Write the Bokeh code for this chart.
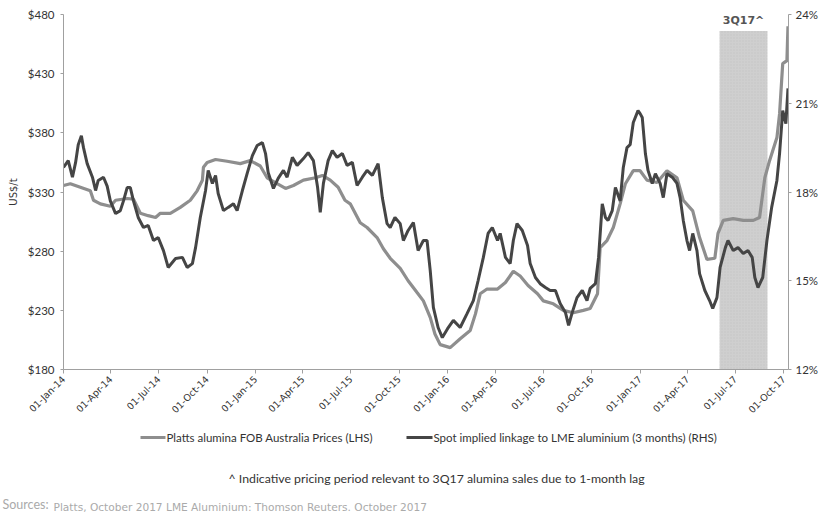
import pandas as pd
from bokeh.plotting import figure
from bokeh.layouts import column
from bokeh.models import (Range1d, LinearAxis, FixedTicker, NumeralTickFormatter,
                          PrintfTickFormatter, DatetimeTickFormatter, Label,
                          ColumnDataSource)
from bokeh.embed import file_html
from bokeh.resources import INLINE
from math import pi

# Platts alumina FOB Australia (US$/t, left axis)
platts_dates = [
    "2014-01-01", "2014-01-14", "2014-02-21", "2014-02-27", "2014-03-12", "2014-03-31",
    "2014-04-10", "2014-05-02", "2014-05-14", "2014-05-27", "2014-06-11", "2014-06-25",
    "2014-07-04", "2014-07-23", "2014-08-11", "2014-08-30", "2014-09-12", "2014-09-22",
    "2014-09-24", "2014-10-01", "2014-10-17", "2014-11-08", "2014-12-03", "2014-12-22",
    "2015-01-10", "2015-01-23", "2015-02-11", "2015-02-27", "2015-03-14", "2015-04-02",
    "2015-04-25", "2015-05-08", "2015-05-23", "2015-06-07", "2015-06-20", "2015-06-30",
    "2015-07-19", "2015-08-01", "2015-08-20", "2015-09-01", "2015-09-14", "2015-10-03",
    "2015-10-18", "2015-11-04", "2015-11-16", "2015-11-29", "2015-12-08", "2015-12-18",
    "2016-01-06", "2016-01-25", "2016-02-13", "2016-02-23", "2016-03-03", "2016-03-16",
    "2016-04-05", "2016-04-20", "2016-05-05", "2016-05-18", "2016-06-02", "2016-06-20",
    "2016-07-01", "2016-07-20", "2016-08-08", "2016-08-27", "2016-09-15", "2016-09-28",
    "2016-10-12", "2016-10-17", "2016-10-30", "2016-11-11", "2016-11-24", "2016-12-04",
    "2016-12-19", "2017-01-01", "2017-01-14", "2017-02-02", "2017-02-21", "2017-03-12",
    "2017-03-24", "2017-04-11", "2017-04-24", "2017-05-08", "2017-05-23", "2017-05-29",
    "2017-06-08", "2017-06-27", "2017-07-16", "2017-08-04", "2017-08-16", "2017-08-26",
    "2017-09-04", "2017-09-18", "2017-09-23", "2017-09-29", "2017-10-07", "2017-10-09",
]
platts_usd = [
    335.5, 337, 331, 323, 320, 318,
    323, 324.5, 324, 312, 310, 308.5,
    312, 312, 317, 323, 331, 340,
    351, 355, 357.5, 356, 354, 356.5,
    352, 342, 337, 333, 335.5, 340,
    342, 344, 340, 334, 323, 320,
    304, 300, 291.5, 282, 274, 265.5,
    255, 245, 238, 224, 210, 201,
    198.5, 206, 213, 227, 244, 248,
    248, 253.5, 263, 259, 251, 244,
    238, 235.5, 230, 228, 230, 231.5,
    244, 283, 289, 300, 320, 337,
    348, 348, 340, 338, 348, 342,
    323, 314, 291.5, 273, 274, 295,
    306, 307.5, 306, 306, 308.5, 342,
    356.5, 376, 396, 438.5, 441, 470,
]

# Spot implied linkage to LME aluminium, 3 months (%, right axis)
linkage_dates = [
    "2014-01-01", "2014-01-10", "2014-01-18", "2014-01-24", "2014-01-29", "2014-02-04",
    "2014-02-08", "2014-02-15", "2014-02-25", "2014-03-03", "2014-03-08", "2014-03-18",
    "2014-03-25", "2014-03-31", "2014-04-10", "2014-04-19", "2014-04-25", "2014-05-02",
    "2014-05-08", "2014-05-14", "2014-05-23", "2014-06-02", "2014-06-11", "2014-06-21",
    "2014-06-30", "2014-07-10", "2014-07-19", "2014-08-02", "2014-08-15", "2014-08-24",
    "2014-09-03", "2014-09-09", "2014-09-18", "2014-09-28", "2014-10-03", "2014-10-11",
    "2014-10-17", "2014-10-22", "2014-11-01", "2014-11-10", "2014-11-20", "2014-11-27",
    "2014-12-07", "2014-12-16", "2014-12-26", "2015-01-04", "2015-01-14", "2015-01-20",
    "2015-01-25", "2015-02-04", "2015-02-13", "2015-02-23", "2015-03-02", "2015-03-12",
    "2015-03-21", "2015-04-02", "2015-04-11", "2015-04-21", "2015-04-29", "2015-05-04",
    "2015-05-10", "2015-05-19", "2015-05-27", "2015-06-05", "2015-06-15", "2015-06-24",
    "2015-07-04", "2015-07-13", "2015-07-23", "2015-08-01", "2015-08-11", "2015-08-22",
    "2015-08-30", "2015-09-08", "2015-09-14", "2015-09-23", "2015-10-03", "2015-10-09",
    "2015-10-18", "2015-10-28", "2015-11-06", "2015-11-16", "2015-11-23", "2015-11-29",
    "2015-12-05", "2015-12-14", "2015-12-22", "2016-01-01", "2016-01-12", "2016-01-25",
    "2016-02-07", "2016-02-19", "2016-02-28", "2016-03-09", "2016-03-18", "2016-03-26",
    "2016-04-05", "2016-04-10", "2016-04-20", "2016-04-29", "2016-05-05", "2016-05-12",
    "2016-05-22", "2016-06-01", "2016-06-06", "2016-06-16", "2016-06-25", "2016-07-05",
    "2016-07-14", "2016-07-24", "2016-08-02", "2016-08-12", "2016-08-18", "2016-08-25",
    "2016-09-03", "2016-09-13", "2016-09-22", "2016-09-28", "2016-10-08", "2016-10-14",
    "2016-10-21", "2016-10-27", "2016-11-01", "2016-11-09", "2016-11-15", "2016-11-24",
    "2016-11-30", "2016-12-07", "2016-12-13", "2016-12-19", "2016-12-28", "2017-01-01",
    "2017-01-05", "2017-01-11", "2017-01-16", "2017-01-24", "2017-01-30", "2017-02-08",
    "2017-02-14", "2017-02-21", "2017-03-03", "2017-03-12", "2017-03-18", "2017-03-24",
    "2017-03-31", "2017-04-05", "2017-04-11", "2017-04-19", "2017-04-24", "2017-05-04",
    "2017-05-13", "2017-05-19", "2017-05-27", "2017-06-02", "2017-06-12", "2017-06-17",
    "2017-06-27", "2017-07-06", "2017-07-16", "2017-07-25", "2017-08-02", "2017-08-07",
    "2017-08-13", "2017-08-22", "2017-08-30", "2017-09-08", "2017-09-18", "2017-09-23",
    "2017-09-29", "2017-10-05", "2017-10-09",
]
linkage_pct = [
    18.83, 19.06, 18.5, 19.0, 19.6, 19.9,
    19.5, 18.96, 18.5, 18.05, 18.39, 18.5,
    18.2, 17.7, 17.27, 17.37, 17.7, 18.15,
    18.15, 17.7, 17.14, 16.8, 16.87, 16.36,
    16.46, 16.02, 15.45, 15.75, 15.79, 15.45,
    15.58, 16.12, 17.14, 18.05, 18.73, 18.29,
    18.56, 17.95, 17.37, 17.48, 17.6, 17.37,
    18.05, 18.62, 19.23, 19.57, 19.67, 19.3,
    18.66, 18.12, 18.46, 18.73, 18.5, 19.17,
    18.9, 19.13, 19.33, 19.06, 18.15, 17.31,
    18.29, 19.06, 19.4, 19.17, 19.3, 18.9,
    19.0, 18.22, 18.5, 18.73, 18.56, 18.96,
    17.81, 16.93, 16.8, 17.14, 16.93, 16.36,
    16.7, 16.97, 16.02, 16.36, 16.36, 15.35,
    14.1, 13.42, 13.08, 13.38, 13.66, 13.42,
    13.89, 14.33, 15.0, 15.79, 16.6, 16.8,
    16.36, 16.6, 15.79, 15.58, 16.36, 16.93,
    16.7, 16.19, 15.58, 15.11, 14.9, 14.77,
    14.67, 14.67, 14.23, 13.93, 13.49, 13.93,
    14.43, 14.67, 14.33, 14.74, 14.9, 15.79,
    17.6, 17.14, 17.04, 17.37, 18.15, 17.7,
    18.83, 19.5, 19.6, 20.35, 20.75, 20.65,
    20.52, 19.3, 18.73, 18.29, 18.62, 18.29,
    17.81, 18.62, 18.5, 18.29, 17.81, 17.04,
    16.36, 16.02, 16.6, 16.02, 15.24, 14.67,
    14.33, 14.06, 14.43, 15.45, 16.12, 16.36,
    16.02, 16.12, 15.92, 16.02, 15.79, 15.11,
    14.77, 15.11, 16.36, 17.48, 18.39, 19.3,
    20.75, 20.31, 21.5,
]

# Quarter-start tick dates and the 3Q17 pricing window (1-month lag)
tick_dates = [
    "2014-01-01", "2014-04-01", "2014-07-01", "2014-10-01",
    "2015-01-01", "2015-04-01", "2015-07-01", "2015-10-01",
    "2016-01-01", "2016-04-01", "2016-07-01", "2016-10-01",
    "2017-01-01", "2017-04-01", "2017-07-01", "2017-10-01",
]
window_start, window_end = "2017-06-01", "2017-08-31"
window_top = 466
usd_ticks = [180, 230, 280, 330, 380, 430, 480]
pct_ticks = [12, 15, 18, 21, 24]

series_labels = ["Platts alumina FOB Australia Prices (LHS)",
                 "Spot implied linkage to LME aluminium (3 months) (RHS)"]
footnote = "^ Indicative pricing period relevant to 3Q17 alumina sales due to 1-month lag"
sources_head = "Sources:"
sources_body = "Platts, October 2017 LME Aluminium: Thomson Reuters. October 2017"

LIGHT = "#8e8e8e"
DARK = "#454545"
AXIS = "#a0a0a0"
TXT = "#333333"
SRC = "#aaaaaa"

W, H_TOP, H_BOTTOM = 821, 425, 88


def ms(d):
    return pd.Timestamp(d).value // 10**6


# ---- main chart -------------------------------------------------------------
p = figure(width=W, height=H_TOP, x_axis_type="datetime",
           x_range=Range1d(pd.Timestamp("2014-01-01"), pd.Timestamp("2017-10-10")),
           y_range=Range1d(180, 480),
           output_backend="svg", toolbar_location=None,
           min_border_left=63, min_border_right=33, min_border_top=14,
           min_border_bottom=56)
p.extra_y_ranges = {"pct": Range1d(12, 24)}
p.xgrid.visible = False
p.ygrid.visible = False
p.outline_line_color = None

# 3Q17 shaded pricing window
p.quad(left=[pd.Timestamp(window_start)], right=[pd.Timestamp(window_end)],
       bottom=[180], top=[window_top], fill_color="#cfcfcf", line_color=None,
       hatch_pattern=".", hatch_color="#bdbdbd", hatch_scale=3, hatch_alpha=0.6)

src_p = ColumnDataSource(dict(x=pd.to_datetime(platts_dates), y=platts_usd))
src_l = ColumnDataSource(dict(x=pd.to_datetime(linkage_dates), y=linkage_pct))
p.line("x", "y", source=src_p, line_color=LIGHT, line_width=3.2)
p.line("x", "y", source=src_l, line_color=DARK, line_width=3.0, y_range_name="pct")

xa = p.xaxis[0]
xa.ticker = FixedTicker(ticks=[ms(d) for d in tick_dates])
fmt = "%d-%b-%y"
xa.formatter = DatetimeTickFormatter(days=fmt, months=fmt, years=fmt, hours=fmt)
xa.major_label_orientation = pi / 4
xa.major_label_standoff = 4

ya = p.yaxis[0]
ya.ticker = FixedTicker(ticks=usd_ticks)
ya.formatter = NumeralTickFormatter(format="$0")
ya.axis_label = "US$/t"
ya.axis_label_standoff = 6
ya.axis_label_text_font_style = "normal"
ya.axis_label_text_font = "DejaVu Sans"
ya.axis_label_text_font_size = "10px"
ya.axis_label_text_color = TXT
ya.major_label_standoff = 6

ra = LinearAxis(y_range_name="pct", ticker=FixedTicker(ticks=pct_ticks),
                formatter=PrintfTickFormatter(format="%d%%"))
ra.major_label_standoff = 4
p.add_layout(ra, "right")

for ax in (xa, ya, ra):
    ax.axis_line_color = AXIS
    ax.major_tick_line_color = AXIS
    ax.minor_tick_line_color = None
    ax.major_tick_in = 0
    ax.major_tick_out = 4 if ax is xa else 3
    ax.major_label_text_color = TXT
for ax in (ya, ra):
    ax.major_label_text_font = "Lato"
    ax.major_label_text_font_size = "11.5px"
xa.major_label_text_font = "DejaVu Sans"
xa.major_label_text_font_size = "9.5px"

p.add_layout(Label(x=(ms(window_start) + ms(window_end)) / 2, y=475, text="3Q17^",
                   text_align="center", text_baseline="middle",
                   text_font="DejaVu Sans", text_font_style="bold",
                   text_font_size="11px", text_color="#555555"))

# ---- legend, footnote and sources (page pixel coordinates) ------------------
f = figure(width=W, height=H_BOTTOM, x_range=Range1d(0, W),
           y_range=Range1d(H_TOP + H_BOTTOM, H_TOP),
           x_axis_location=None, y_axis_location=None,
           output_backend="svg", toolbar_location=None,
           min_border=0, min_border_left=0, min_border_right=0,
           min_border_top=0, min_border_bottom=0)
f.grid.visible = False
f.outline_line_color = None
# keep this strip's frame independent of the chart frame above it
for plot in (p, f):
    if "frame_align" in plot.properties():
        plot.frame_align = False

# legend keys
f.segment(x0=[140], y0=[437], x1=[165], y1=[437], line_color=LIGHT, line_width=3.2)
f.segment(x0=[406], y0=[437], x1=[432], y1=[437], line_color=DARK, line_width=3.0)
for x0, txt in ((166, series_labels[0]), (433, series_labels[1])):
    f.add_layout(Label(x=x0, y=437, text=txt, text_font="Lato", text_font_size="11.5px",
                       text_color=TXT, text_baseline="middle"))

f.add_layout(Label(x=228, y=478, text=footnote, text_font="Lato",
                   text_font_size="12.3px", text_color=TXT, text_baseline="middle"))
f.add_layout(Label(x=2, y=504, text=sources_head, text_font="Lato",
                   text_font_size="12.5px", text_color=SRC, text_baseline="middle"))
f.add_layout(Label(x=53, y=506, text=sources_body, text_font="DejaVu Sans",
                   text_font_size="10.6px", text_color=SRC, text_baseline="middle"))

layout = column(p, f, spacing=0)
open("out.html", "w").write(file_html(layout, INLINE))
